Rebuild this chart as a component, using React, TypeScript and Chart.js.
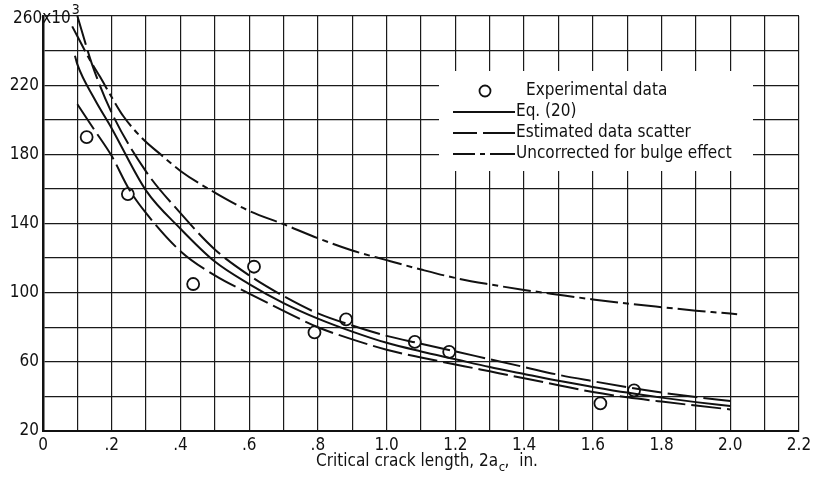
import React, { useEffect, useRef } from 'react';
import { Chart, registerables } from 'chart.js';

Chart.register(...registerables);

// ---- Data ----
const expX = [0.127, 0.247, 0.437, 0.614, 0.79, 0.882, 1.082, 1.182, 1.622, 1.72];
const expY = [190, 157, 105, 115, 77, 84.5, 71.5, 65.8, 36, 43.5];

const eqX = [0.093, 0.1, 0.15, 0.2, 0.3, 0.4, 0.5, 0.6, 0.7, 0.8, 0.9, 1.0, 1.1, 1.2, 1.3, 1.4, 1.5, 1.6, 1.7, 1.8, 1.9, 2.0];
const eqY = [237, 232, 212, 195, 159, 137, 118, 105, 94, 85, 77.5, 71, 66, 61.5, 57, 53, 49, 45.5, 42.2, 39.3, 36.7, 34.4];

const upperX = [0.1, 0.142, 0.2, 0.3, 0.4, 0.5, 0.6, 0.7, 0.8, 0.9, 1.0, 1.1, 1.2, 1.3, 1.4, 1.5, 1.6, 1.7, 1.8, 1.9, 2.0];
const upperY = [260, 232.5, 204, 170, 146, 125, 110, 98, 88, 81, 75, 70.5, 66, 61.5, 57, 52.5, 48.8, 45.3, 42.2, 39.6, 37.3];

const lowerX = [0.1, 0.15, 0.2, 0.25, 0.3, 0.4, 0.5, 0.6, 0.7, 0.8, 0.9, 1.0, 1.1, 1.2, 1.3, 1.4, 1.5, 1.6, 1.7, 1.8, 1.9, 2.0];
const lowerY = [209, 194, 179, 160, 146, 124, 110, 99.5, 89.5, 80, 73, 67, 62.5, 58.5, 54.5, 50.5, 46.5, 42.5, 39.5, 37, 34.7, 32.5];

const uncX = [0.085, 0.137, 0.166, 0.2, 0.234, 0.29, 0.342, 0.4, 0.5, 0.6, 0.7, 0.8, 0.9, 1.0, 1.1, 1.2, 1.3, 1.4, 1.5, 1.6, 1.7, 1.8, 1.9, 2.0, 2.02];
const uncY = [254, 234.4, 224.8, 213, 202, 189, 180, 170.4, 157.9, 147.3, 139.6, 131.5, 124.4, 118.8, 113.4, 108.5, 104.8, 101.6, 98.8, 96.1, 93.7, 91.6, 89.6, 87.9, 87.5];

const xTickLabels = ['0', '.2', '.4', '.6', '.8', '1.0', '1.2', '1.4', '1.6', '1.8', '2.0', '2.2'];
const yTickValues = [20, 60, 100, 140, 180, 220];
const yTickLabels = ['20', '60', '100', '140', '180', '220'];
const yTopLabel = '260x10';
const yTopExp = '3';
const xTitleMain = 'Critical crack length, 2a';
const xTitleSub = 'c';
const xTitleEnd = ',  in.';

const legendLabels = ['Experimental data', 'Eq. (20)', 'Estimated data scatter', 'Uncorrected for bulge effect'];

const FONT = '"Liberation Sans Narrow", "DejaVu Sans Condensed", "Arial Narrow", sans-serif';
const INK = '#111';

const pts = (xs: number[], ys: number[]) => xs.map((x, i) => ({ x, y: ys[i] }));

const SCATTER_DASH = [30, 6];
const UNC_DASH = [28, 5, 6, 5];

const seg = (ctx: CanvasRenderingContext2D, a: number, b: number, y: number) => {
  ctx.beginPath();
  ctx.moveTo(a, y);
  ctx.lineTo(b, y);
  ctx.stroke();
};

const decorPlugin = {
  id: 'decor',
  beforeDatasetsDraw(chart: any) {
    const ctx = chart.ctx as CanvasRenderingContext2D;
    ctx.save();
    // legend box (white, interrupts the grid)
    ctx.fillStyle = '#fff';
    ctx.fillRect(439, 71, 314, 100);
    const rows = [91, 112, 133, 154];
    ctx.strokeStyle = INK;
    // row 1: circle
    ctx.beginPath();
    ctx.arc(485, rows[0], 5.5, 0, Math.PI * 2);
    ctx.fillStyle = '#fff';
    ctx.fill();
    ctx.lineWidth = 1.8;
    ctx.stroke();
    ctx.lineWidth = 2;
    // row 2: solid
    seg(ctx, 453, 515, rows[1]);
    // row 3: dashed (two long dashes)
    seg(ctx, 453, 477, rows[2]);
    seg(ctx, 483, 515, rows[2]);
    // row 4: dash-dot (long, short, long)
    seg(ctx, 453, 475, rows[3]);
    seg(ctx, 480, 485, rows[3]);
    seg(ctx, 490, 515, rows[3]);
    ctx.fillStyle = INK;
    ctx.font = `17px ${FONT}`;
    ctx.textBaseline = 'middle';
    ctx.textAlign = 'left';
    ctx.fillText(legendLabels[0], 526, rows[0]);
    ctx.fillText(legendLabels[1], 516, rows[1]);
    ctx.fillText(legendLabels[2], 516, rows[2]);
    ctx.fillText(legendLabels[3], 516, rows[3]);
    ctx.restore();
  },
  afterDraw(chart: any) {
    const ctx = chart.ctx as CanvasRenderingContext2D;
    const area = chart.chartArea;
    ctx.save();
    ctx.fillStyle = INK;
    ctx.textBaseline = 'middle';
    ctx.textAlign = 'left';
    // top y label with exponent
    ctx.font = `17px ${FONT}`;
    const topY = chart.scales.y.getPixelForValue(260);
    ctx.fillText(yTopLabel, 13, topY + 3);
    const w = ctx.measureText(yTopLabel).width;
    ctx.font = `14px ${FONT}`;
    ctx.fillText(yTopExp, 13 + w + 1, topY - 6);
    // x-axis title with subscript
    ctx.font = `17px ${FONT}`;
    const wMain = ctx.measureText(xTitleMain).width;
    const wEnd = ctx.measureText(xTitleEnd).width;
    ctx.font = `13px ${FONT}`;
    const wSub = ctx.measureText(xTitleSub).width;
    const total = wMain + wSub + wEnd;
    const cx = (area.left + area.right) / 2 + 6;
    let x = cx - total / 2;
    const ty = 462;
    ctx.font = `17px ${FONT}`;
    ctx.fillText(xTitleMain, x, ty);
    x += wMain;
    ctx.font = `13px ${FONT}`;
    ctx.fillText(xTitleSub, x + 0.5, ty + 6);
    x += wSub;
    ctx.font = `17px ${FONT}`;
    ctx.fillText(xTitleEnd, x, ty);
    ctx.restore();
  },
};

export default function App() {
  const ref = useRef<HTMLCanvasElement | null>(null);

  useEffect(() => {
    document.body.style.margin = '0';
    const canvas = ref.current;
    if (!canvas) return;
    const lineBase = {
      showLine: true,
      pointRadius: 0,
      pointHoverRadius: 0,
      borderColor: INK,
      borderWidth: 2,
      fill: false,
      cubicInterpolationMode: 'monotone' as const,
    };
    const chart = new Chart(canvas, {
      type: 'scatter',
      data: {
        datasets: [
          { ...lineBase, label: 'Uncorrected for bulge effect', data: pts(uncX, uncY), borderDash: UNC_DASH },
          { ...lineBase, label: 'Estimated data scatter (upper)', data: pts(upperX, upperY), borderDash: SCATTER_DASH },
          { ...lineBase, label: 'Eq. (20)', data: pts(eqX, eqY) },
          { ...lineBase, label: 'Estimated data scatter (lower)', data: pts(lowerX, lowerY), borderDash: SCATTER_DASH },
          {
            label: 'Experimental data',
            data: pts(expX, expY),
            showLine: false,
            pointRadius: 6,
            pointBorderWidth: 1.8,
            pointBorderColor: INK,
            pointBackgroundColor: '#fff',
            pointStyle: 'circle',
          },
        ],
      },
      options: {
        animation: false,
        responsive: false,
        events: [],
        layout: { padding: { top: 16, right: 18, left: 0, bottom: 0 } },
        plugins: { legend: { display: false }, tooltip: { enabled: false }, title: { display: false } },
        scales: {
          x: {
            type: 'linear',
            min: 0,
            max: 2.2,
            afterFit: (s: any) => { s.height = 56; },
            ticks: {
              stepSize: 0.1,
              autoSkip: false,
              maxRotation: 0,
              padding: 4,
              color: INK,
              font: { family: FONT, size: 17 },
              callback: (v: any) => {
                const i = Math.round(Number(v) * 10);
                return i % 2 === 0 ? xTickLabels[i / 2] : '';
              },
            },
            grid: { color: '#1a1a1a', lineWidth: 1.2, drawTicks: false },
            border: { display: true, color: INK, width: 2 },
          },
          y: {
            type: 'linear',
            min: 20,
            max: 260,
            afterFit: (s: any) => { s.width = 43; },
            ticks: {
              stepSize: 20,
              autoSkip: false,
              padding: 4,
              color: INK,
              font: { family: FONT, size: 17 },
              callback: (v: any) => {
                const idx = yTickValues.indexOf(Math.round(Number(v)));
                return idx >= 0 ? yTickLabels[idx] : '';
              },
            },
            grid: { color: '#1a1a1a', lineWidth: 1.2, drawTicks: false },
            border: { display: true, color: INK, width: 2.5 },
          },
        },
      },
      plugins: [decorPlugin],
    });
    return () => chart.destroy();
  }, []);

  return (
    <div style={{ position: 'absolute', left: 0, top: 0, width: 817, height: 487, background: '#fff' }}>
      <canvas ref={ref} width={817} height={487} />
    </div>
  );
}
